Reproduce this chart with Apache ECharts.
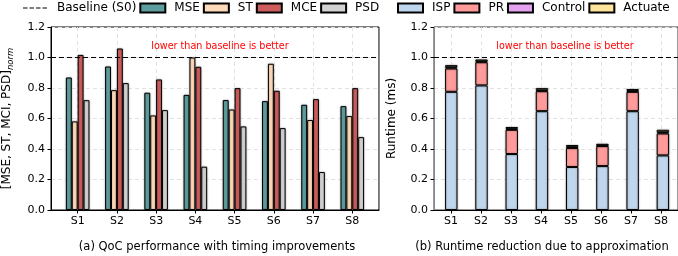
<!DOCTYPE html>
<html>
<head>
<meta charset="utf-8">
<script src="https://cdn.jsdelivr.net/npm/echarts@6/dist/echarts.min.js"></script>
<style>
  html, body { margin: 0; padding: 0; background: #fff; }
  #chart { width: 678px; height: 256px; }
</style>
</head>
<body>
<div id="chart"></div>
<script>
// categories
var cats = ["S1", "S2", "S3", "S4", "S5", "S6", "S7", "S8"];
// (a) normalised QoC metrics
var mse = [0.869, 0.941, 0.769, 0.755, 0.721, 0.714, 0.690, 0.681];
var st  = [0.581, 0.786, 0.620, 1.000, 0.659, 0.959, 0.590, 0.616];
var mce = [1.017, 1.059, 0.856, 0.939, 0.799, 0.782, 0.727, 0.799];
var psd = [0.720, 0.832, 0.655, 0.284, 0.548, 0.537, 0.249, 0.478];
// (b) runtime parts (ms)
var isp     = [0.775, 0.817, 0.367, 0.648, 0.282, 0.288, 0.648, 0.358];
var pr      = [0.153, 0.152, 0.159, 0.131, 0.124, 0.131, 0.127, 0.144];
var control = [0.008, 0.006, 0.006, 0.006, 0.008, 0.004, 0.006, 0.008];
var actuate = [0.014, 0.012, 0.012, 0.014, 0.012, 0.011, 0.012, 0.016];
var baseline = 1.0;

var FONT = "DejaVu Sans";
var catIdx = cats.map(function (c, i) { return i; });

// frame of each panel (axes box) and the x range around the categories
var leftBox = { left: 51, top: 27, height: 183, min: -0.68, max: 7.68, step: 39.23 };
var rightBox = { left: 434, top: 27, height: 183, min: -0.57, max: 7.57, step: 30.95 };

var myChart = echarts.init(document.getElementById("chart"));

var barBorder = {
  borderColor: "#000",
  borderWidth: 1,
  shadowColor: "rgba(0,0,0,0.35)",
  shadowBlur: 2
};

var gridLine = { show: true, lineStyle: { color: "#e2e2e2", type: [4, 3], width: 1 } };

function frameGrid(b, border) {
  return {
    left: b.left, top: b.top, height: b.height,
    width: (b.max - b.min) * b.step,
    show: true, borderColor: border, borderWidth: 1, backgroundColor: "transparent"
  };
}
// inner grid holding the category bars, lined up with the frame's x range
function barGrid(b) {
  return {
    left: b.left + (-0.5 - b.min) * b.step, top: b.top, height: b.height,
    width: cats.length * b.step
  };
}

function frameX(grid, b) {
  return {
    type: "value",
    gridIndex: grid,
    min: b.min,
    max: b.max,
    axisLine: { show: true, onZero: false, lineStyle: { color: "#000", width: 1 } },
    axisTick: { show: true, length: 3.5, customValues: catIdx, lineStyle: { color: "#000" } },
    axisLabel: {
      customValues: catIdx,
      margin: 6,
      fontFamily: FONT,
      fontSize: 11,
      color: "#000",
      formatter: function (v) { return cats[Math.round(v)]; }
    },
    splitLine: gridLine
  };
}

function frameY(grid, name, lineColor) {
  return {
    type: "value",
    gridIndex: grid,
    min: 0,
    max: 1.2,
    interval: 0.2,
    name: name,
    nameLocation: "middle",
    nameRotate: 90,
    nameGap: 36,
    nameTextStyle: {
      fontFamily: FONT,
      fontSize: 12,
      color: "#000",
      rich: {
        m: { fontFamily: FONT, fontSize: 12, color: "#000", lineHeight: 16 },
        s: { fontFamily: FONT, fontSize: 8.5, fontStyle: "italic", color: "#000", verticalAlign: "bottom", lineHeight: 16, padding: [4, 0, 0, 0] }
      }
    },
    axisLine: { show: true, onZero: false, lineStyle: { color: lineColor, width: 1 } },
    axisTick: { show: true, length: 3.5, lineStyle: { color: "#000" } },
    axisLabel: {
      margin: 6,
      fontFamily: FONT,
      fontSize: 11,
      color: "#000",
      formatter: function (v) { return v.toFixed(1); }
    },
    splitLine: gridLine
  };
}

function hiddenX(grid) {
  return { type: "category", gridIndex: grid, data: cats, show: false, boundaryGap: true };
}
function hiddenY(grid) {
  return { type: "value", gridIndex: grid, min: 0, max: 1.2, show: false };
}

function barSeries(name, color, data, ai, width, stack) {
  var s = {
    name: name,
    type: "bar",
    xAxisIndex: ai,
    yAxisIndex: ai,
    barWidth: width,
    barGap: "0%",
    itemStyle: Object.assign({ color: color }, barBorder),
    data: data,
    z: 3
  };
  if (stack) s.stack = stack;
  return s;
}

function baselineSeries(ai) {
  return {
    name: "Baseline (S0)",
    type: "line",
    xAxisIndex: ai,
    yAxisIndex: ai,
    symbol: "none",
    silent: true,
    itemStyle: { color: "#000" },
    lineStyle: { color: "#000", width: 1.2, type: [5, 3] },
    data: [],
    markLine: {
      silent: true,
      symbol: ["none", "none"],
      label: { show: false },
      lineStyle: { color: "#000", width: 1.2, type: [5, 3] },
      data: [{ yAxis: baseline }]
    },
    z: 6
  };
}

var legendText = { fontFamily: FONT, fontSize: 12, color: "#000", padding: [0, 0, 0, 4] };
var dashIcon = "path://M0 0H0.01V0.01H0Z M24.99 8.99H25V9H24.99Z M0 3.9H4.5V5.1H0Z M6.5 3.9H11V5.1H6.5Z M13 3.9H17.5V5.1H13Z M19.5 3.9H24V5.1H19.5Z";

var option = {
  animation: false,
  backgroundColor: "#fff",
  textStyle: { fontFamily: FONT },
  title: [
    { text: "lower than baseline is better", left: 215, top: 36, textAlign: "center",
      textStyle: { fontFamily: FONT, fontSize: 9.6, fontWeight: "normal", color: "#ff0000" } },
    { text: "lower than baseline is better", left: 560, top: 36, textAlign: "center",
      textStyle: { fontFamily: FONT, fontSize: 9.6, fontWeight: "normal", color: "#ff0000" } },
    { text: "(a) QoC performance with timing improvements", left: 212, top: 236, textAlign: "center",
      textStyle: { fontFamily: FONT, fontSize: 11.5, fontWeight: "normal", color: "#000" } },
    { text: "(b) Runtime reduction due to approximation", left: 537, top: 236, textAlign: "center",
      textStyle: { fontFamily: FONT, fontSize: 11.5, fontWeight: "normal", color: "#000" } }
  ],
  legend: [
    {
      left: 23, top: 2, padding: 0, itemWidth: 25, itemHeight: 9, itemGap: 3, width: 380,
      selectedMode: false,
      textStyle: legendText,
      data: [
        { name: "Baseline (S0)", icon: dashIcon, itemStyle: { color: "#000", borderWidth: 0 } },
        { name: "MSE", icon: "rect" },
        { name: "ST", icon: "rect" },
        { name: "MCE", icon: "rect" },
        { name: "PSD", icon: "rect" }
      ]
    },
    {
      left: 397, top: 2, padding: 0, itemWidth: 25, itemHeight: 9, itemGap: 3, width: 300,
      selectedMode: false,
      textStyle: legendText,
      data: [
        { name: "ISP", icon: "rect" },
        { name: "PR", icon: "rect" },
        { name: "Control", icon: "rect" },
        { name: "Actuate", icon: "rect" }
      ]
    }
  ],
  grid: [
    frameGrid(leftBox, "#000"),
    frameGrid(rightBox, "#333"),
    barGrid(leftBox),
    barGrid(rightBox)
  ],
  xAxis: [
    frameX(0, leftBox),
    frameX(1, rightBox),
    hiddenX(2),
    hiddenX(3)
  ],
  yAxis: [
    frameY(0, "{m|[MSE, ST, MCI, PSD]}{s|norm}", "#000"),
    frameY(1, "Runtime (ms)", "#888"),
    hiddenY(2),
    hiddenY(3)
  ],
  series: [
    baselineSeries(0),
    baselineSeries(1),
    barSeries("MSE", "#5f9ea0", mse, 2, 5.9),
    barSeries("ST", "#ffdab9", st, 2, 5.9),
    barSeries("MCE", "#cd5c5c", mce, 2, 5.9),
    barSeries("PSD", "#d3d3d3", psd, 2, 5.9),
    barSeries("ISP", "#c0d6ec", isp, 3, 12.4, "rt"),
    barSeries("PR", "#ff9b9b", pr, 3, 12.4, "rt"),
    barSeries("Control", "#e6a1ee", control, 3, 12.4, "rt"),
    barSeries("Actuate", "#fde49a", actuate, 3, 12.4, "rt")
  ]
};

myChart.setOption(option);
window.onresize = function () {
  myChart ? myChart.resize() : "";
};
</script>
</body>
</html>
